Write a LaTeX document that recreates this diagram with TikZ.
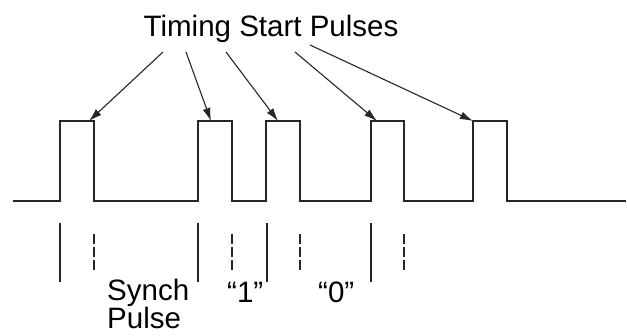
\documentclass[tikz,border=0pt]{standalone}
\usepackage{fontspec}
\setmainfont{Liberation Sans}
\usetikzlibrary{arrows.meta}

\begin{document}
\begin{tikzpicture}[
    x=1pt, y=-1pt,
    every node/.style={inner sep=0pt, font=\fontsize{29.5}{30}\selectfont},
    wave/.style={line width=1.3pt, color=black!85, line join=miter},
    pointer/.style={line width=1.1pt, color=black!85, -{Latex[length=13pt,width=8pt]}},
    edge/.style={line width=1.3pt, color=black!85},
    halfedge/.style={line width=1.3pt, color=black!85, dash pattern=on 10pt off 3pt}
]
\useasboundingbox (0,0) rectangle (627,336);

\node[anchor=base] (title) at (271,37) {Timing Start Pulses};

% where the pointers leave the title
\coordinate (t1) at (163,52);
\coordinate (t2) at (186,52);
\coordinate (t3) at (226,52);
\coordinate (t4) at (295,52);
\coordinate (t5) at (310,45);

% where they land on the pulse tops
\coordinate (p1) at (89,121);
\coordinate (p2) at (211,121);
\coordinate (p3) at (278,121);
\coordinate (p4) at (377,121);
\coordinate (p5) at (473,121);

% pulse train
\draw[wave] (13,201) -- (60,201) -- (60,121) -- (94,121) -- (94,201)
    -- (198,201) -- (198,121) -- (232,121) -- (232,201)
    -- (266,201) -- (266,121) -- (300,121) -- (300,201)
    -- (371,201) -- (371,121) -- (404,121) -- (404,201)
    -- (473,201) -- (473,121) -- (507,121) -- (507,201)
    -- (626,201);

\draw[pointer] (t1) -- (p1);
\draw[pointer] (t2) -- (p2);
\draw[pointer] (t3) -- (p3);
\draw[pointer] (t4) -- (p4);
\draw[pointer] (t5) -- (p5);

% leading edges
\draw[edge] (60,223) -- (60,282);
\draw[edge] (198,223) -- (198,282);
\draw[edge] (267,223) -- (267,282);
\draw[edge] (371,223) -- (371,282);

% trailing edges
\draw[halfedge] (94,234) -- (94,270);
\draw[halfedge] (232,234) -- (232,270);
\draw[halfedge] (300,234) -- (300,270);
\draw[halfedge] (404,234) -- (404,270);

\node[anchor=base west] (synch) at (107,301) {Synch};
\node[anchor=base west] (pulse) at (107,329) {Pulse};
\node[anchor=base west] (one) at (227,303) {“1”};
\node[anchor=base west] (zero) at (318,303) {“0”};
\end{tikzpicture}
\end{document}
